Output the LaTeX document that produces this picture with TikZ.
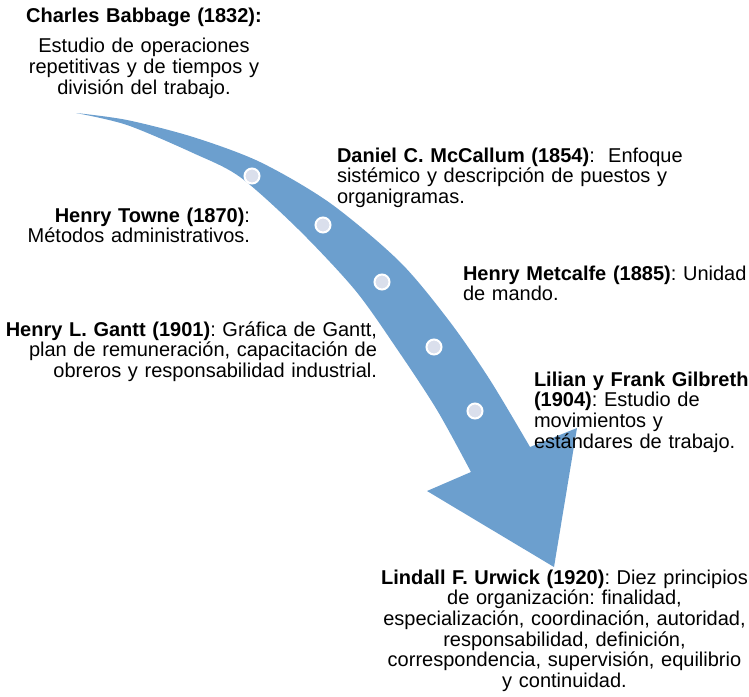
\documentclass[tikz,border=0pt]{standalone}
\usepackage{fontspec}
\setmainfont{Liberation Sans}
\frenchspacing
\definecolor{c6c9fce}{RGB}{108,159,206}
\definecolor{cdadfec}{RGB}{218,223,236}

\begin{document}
\begin{tikzpicture}[x=1pt, y=-1pt, inner sep=0pt, outer sep=0pt,
  every node/.append style={font=\fontsize{20}{20.7}\selectfont, text=black},
  hito/.style={fill=cdadfec, draw=white, line width=2pt},
  bloque/.style={text width=420pt}]
  \useasboundingbox (0, 0) rectangle (749, 696);

  % flecha curva
  \path[fill=c6c9fce] (76, 113) -- plot[smooth] coordinates {(76, 113) (127, 120)
    (193, 137) (260, 162) (330, 203) (400, 262) (450, 322) (490, 380) (530, 447)}
    -- (577, 428) -- (554, 567) -- (427, 491) -- (471, 472)
    -- plot[smooth] coordinates {(471, 472) (437, 410) (397, 349) (355, 290)
    (298, 229) (240, 177) (193, 153) (127, 125) (76, 113)} -- cycle;

  % hitos
  \path[hito] (252, 176) circle (7.5);
  \path[hito] (323, 225) circle (7.5);
  \path[hito] (382, 282) circle (7.5);
  \path[hito] (434, 347) circle (7.5);
  \path[hito] (475, 411) circle (7.5);

  % textos
  \node[bloque, align=center, anchor=base] (babbage) at (144, 22)
    {\textbf{Charles Babbage (1832):}\\[10pt]Estudio de operaciones\\repetitivas y de tiempos y\\división del trabajo.};

  \node[bloque, align=left, anchor=base west] (mccallum) at (337, 162)
    {\textbf{Daniel C. McCallum (1854)}:~~Enfoque\\sistémico y descripción de puestos y\\organigramas.};

  \node[bloque, align=right, anchor=base east] (towne) at (250, 222)
    {\textbf{Henry Towne (1870)}:\\Métodos administrativos.};

  \node[bloque, align=left, anchor=base west] (metcalfe) at (463, 280)
    {\textbf{Henry Metcalfe (1885)}: Unidad\\de mando.};

  \node[bloque, align=right, anchor=base east] (gantt) at (377, 336)
    {\textbf{Henry L. Gantt (1901)}: Gráfica de Gantt,\\plan de remuneración, capacitación de\\obreros y responsabilidad industrial.};

  \node[bloque, align=left, anchor=base west] (gilbreth) at (534, 386)
    {\textbf{Lilian y Frank Gilbreth}\\\textbf{(1904)}: Estudio de\\movimientos y\\estándares de trabajo.};

  \node[bloque, align=center, anchor=base] (urwick) at (564.5, 584)
    {\textbf{Lindall F. Urwick (1920)}: Diez principios\\de organización: finalidad,\\especialización, coordinación, autoridad,\\responsabilidad, definición,\\correspondencia, supervisión, equilibrio\\y continuidad.};

\end{tikzpicture}
\end{document}
